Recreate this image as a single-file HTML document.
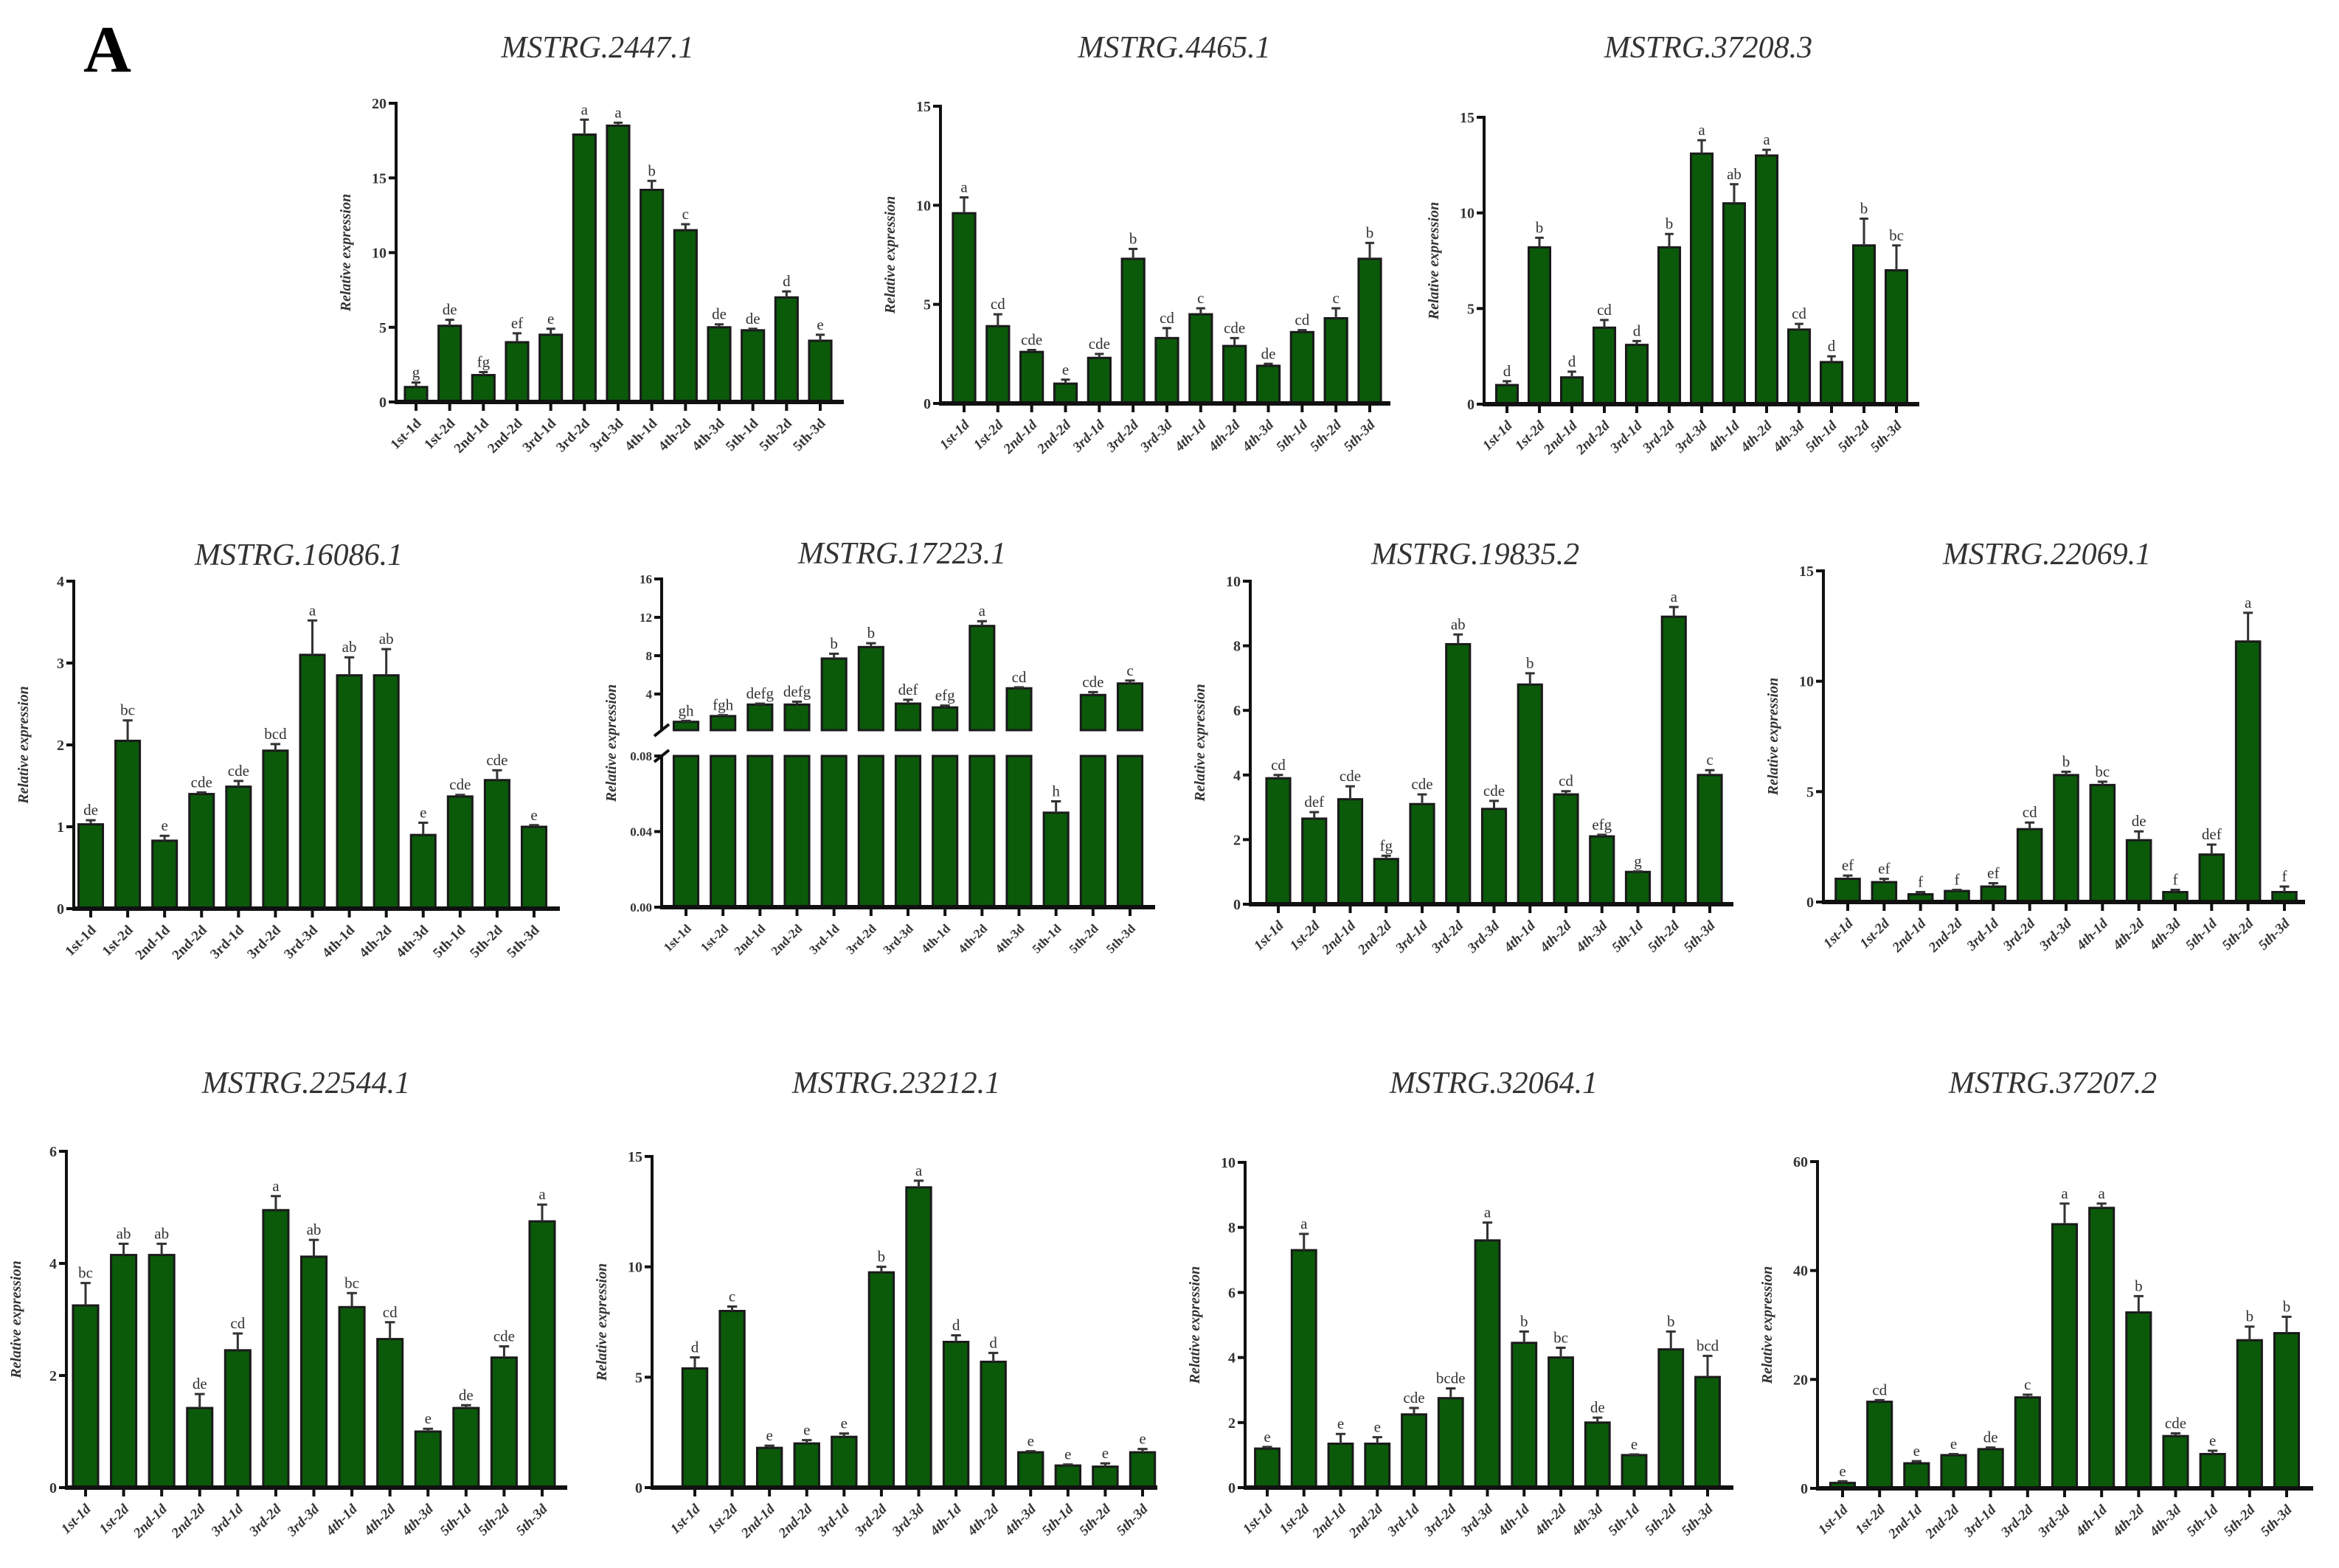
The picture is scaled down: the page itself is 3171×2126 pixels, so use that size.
<!DOCTYPE html>
<html><head><meta charset="utf-8">
<style>
html,body{margin:0;padding:0;background:#fff;}
svg{display:block;}
text{font-family:"Liberation Serif",serif;}
</style></head>
<body>
<svg id="fig" width="3171" height="2126" viewBox="0 0 3171 2126" xmlns="http://www.w3.org/2000/svg">
<text x="113" y="97" font-size="90" font-weight="bold" fill="#000">A</text>
</svg>
<script>
const categories = ["1st-1d","1st-2d","2nd-1d","2nd-2d","3rd-1d","3rd-2d","3rd-3d","4th-1d","4th-2d","4th-3d","5th-1d","5th-2d","5th-3d"];

const p1Values = [1.0,5.1,1.8,4.0,4.5,17.9,18.5,14.2,11.5,5.0,4.8,7.0,4.1];
const p1Errors = [0.3,0.4,0.2,0.6,0.4,1.0,0.2,0.6,0.4,0.2,0.1,0.4,0.4];
const p1Letters = ["g","de","fg","ef","e","a","a","b","c","de","de","d","e"];
const p1Ticks = [0,5,10,15,20];

const p2Values = [9.6,3.9,2.6,1.0,2.3,7.3,3.3,4.5,2.9,1.9,3.6,4.3,7.3];
const p2Errors = [0.8,0.6,0.1,0.2,0.2,0.5,0.5,0.3,0.4,0.1,0.1,0.5,0.8];
const p2Letters = ["a","cd","cde","e","cde","b","cd","c","cde","de","cd","c","b"];
const p2Ticks = [0,5,10,15];

const p3Values = [1.0,8.2,1.4,4.0,3.1,8.2,13.1,10.5,13.0,3.9,2.2,8.3,7.0];
const p3Errors = [0.2,0.5,0.3,0.4,0.2,0.7,0.7,1.0,0.3,0.3,0.3,1.4,1.3];
const p3Letters = ["d","b","d","cd","d","b","a","ab","a","cd","d","b","bc"];
const p3Ticks = [0,5,10,15];

const p4Values = [1.03,2.05,0.83,1.4,1.49,1.93,3.1,2.85,2.85,0.9,1.37,1.57,1.0];
const p4Errors = [0.05,0.25,0.06,0.02,0.07,0.08,0.42,0.22,0.32,0.15,0.02,0.12,0.02];
const p4Letters = ["de","bc","e","cde","cde","bcd","a","ab","ab","e","cde","cde","e"];
const p4Ticks = [0,1,2,3,4];

const p5Values = [1.1,1.7,2.9,2.9,7.7,8.9,3.0,2.6,11.1,4.6,0.05,3.9,5.1];
const p5Errors = [0.1,0.1,0.1,0.3,0.5,0.4,0.4,0.2,0.5,0.1,0.006,0.3,0.3];
const p5Letters = ["gh","fgh","defg","defg","b","b","def","efg","a","cd","h","cde","c"];
const p5UpperTicks = [4,8,12,16];
const p5LowerTicks = [0,0.04,0.08];

const p6Values = [3.9,2.65,3.25,1.4,3.1,8.05,2.95,6.8,3.4,2.1,1.0,8.9,4.0];
const p6Errors = [0.1,0.2,0.4,0.1,0.3,0.3,0.25,0.35,0.1,0.05,0.02,0.3,0.15];
const p6Letters = ["cd","def","cde","fg","cde","ab","cde","b","cd","efg","g","a","c"];
const p6Ticks = [0,2,4,6,8,10];

const p7Values = [1.05,0.9,0.35,0.5,0.7,3.3,5.75,5.3,2.8,0.45,2.15,11.8,0.45];
const p7Errors = [0.15,0.15,0.1,0.05,0.15,0.3,0.15,0.15,0.4,0.1,0.45,1.3,0.25];
const p7Letters = ["ef","ef","f","f","ef","cd","b","bc","de","f","def","a","f"];
const p7Ticks = [0,5,10,15];

const p8Values = [3.25,4.15,4.15,1.42,2.45,4.95,4.12,3.22,2.65,1.0,1.42,2.32,4.75];
const p8Errors = [0.4,0.2,0.2,0.25,0.3,0.25,0.3,0.25,0.3,0.05,0.05,0.2,0.3];
const p8Letters = ["bc","ab","ab","de","cd","a","ab","bc","cd","e","de","cde","a"];
const p8Ticks = [0,2,4,6];

const p9Values = [5.4,8.0,1.8,2.0,2.3,9.75,13.6,6.6,5.7,1.6,1.0,0.95,1.6];
const p9Errors = [0.5,0.2,0.1,0.15,0.15,0.25,0.3,0.3,0.4,0.05,0.05,0.15,0.15];
const p9Letters = ["d","c","e","e","e","b","a","d","d","e","e","e","e"];
const p9Ticks = [0,5,10,15];

const p10Values = [1.2,7.3,1.35,1.35,2.25,2.75,7.6,4.45,4.0,2.0,1.0,4.25,3.4];
const p10Errors = [0.05,0.5,0.3,0.2,0.2,0.3,0.55,0.35,0.3,0.15,0.02,0.55,0.65];
const p10Letters = ["e","a","e","e","cde","bcde","a","b","bc","de","e","b","bcd"];
const p10Ticks = [0,2,4,6,8,10];

const p11Values = [1.0,15.9,4.6,6.1,7.2,16.7,48.5,51.5,32.3,9.6,6.3,27.2,28.5];
const p11Errors = [0.3,0.3,0.4,0.2,0.3,0.5,3.8,0.8,3.0,0.5,0.6,2.5,3.0];
const p11Letters = ["e","cd","e","e","de","c","a","a","b","cde","e","b","b"];
const p11Ticks = [0,20,40,60];

const NS = "http://www.w3.org/2000/svg";
const svg = document.getElementById("fig");
const GREEN = "#0a5a0a";

function mk(tag, attrs, parent) {
  const el = document.createElementNS(NS, tag);
  for (const k in attrs) el.setAttribute(k, attrs[k]);
  (parent || svg).appendChild(el);
  return el;
}

function drawPanel(cfg, values, errors, letters, ticks) {
  const g = mk("g", {});
  
  
  const ymax = ticks[ticks.length - 1];
  const yScale = v => cfg.y0 - (v / ymax) * (cfg.y0 - cfg.yTop);
  const step = (cfg.xLast - cfg.xFirst) / (categories.length - 1);
  const xScale = i => cfg.xFirst + i * step;
  const bw = step * 0.66;

  const t = mk("text", {x: cfg.tx, y: cfg.ty, "font-size": 42, "font-style": "italic", "text-anchor": "middle", fill: "#333"}, g);
  t.textContent = cfg.title;
  
  

  const yl = mk("text", {x: 0, y: 0, "font-size": 20, "font-style": "italic", "font-weight": "bold", "text-anchor": "middle", fill: "#333",
    transform: `translate(${cfg.ax - 62},${(cfg.y0 + cfg.yTop) / 2}) rotate(-90)`}, g);
  yl.textContent = "Relative expression";
  
  

  values.forEach((v, i) => {
    const x = xScale(i);
    const yt = yScale(v);
    const r = mk("rect", {x: x - bw / 2, y: yt, width: bw, height: cfg.y0 - yt, fill: GREEN, stroke: "#1a1a1a", "stroke-width": 3}, g);
    
    
    const ye = yScale(v + errors[i]);
    const e = mk("path", {d: `M${x},${yt} V${ye} M${x - bw * 0.2},${ye} H${x + bw * 0.2}`, stroke: "#333", "stroke-width": 3, fill: "none"}, g);
    
    
    const l = mk("text", {x: x, y: ye - 7, "font-size": 21, "text-anchor": "middle", fill: "#333"}, g);
    l.textContent = letters[i];
    
    
  });

  drawAxes(g, cfg, xScale);
  ticks.forEach(tv => {
    const y = yScale(tv);
    const tk = mk("line", {x1: cfg.ax - 10, x2: cfg.ax, y1: y, y2: y, stroke: "#111", "stroke-width": 4}, g);
    
    
    const tl = mk("text", {x: cfg.ax - 13, y: y + 7, "font-size": 20, "font-weight": "bold", "text-anchor": "end", fill: "#333"}, g);
    tl.textContent = tv;
    
    
  });
}

function drawAxes(g, cfg, xScale) {
  const ya = mk("line", {x1: cfg.ax, x2: cfg.ax, y1: cfg.yTop - 2, y2: cfg.y0, stroke: "#111", "stroke-width": 4}, g);
  
  
  const xa = mk("line", {x1: cfg.ax - 2, x2: cfg.xEnd, y1: cfg.y0, y2: cfg.y0, stroke: "#111", "stroke-width": 6}, g);
  
  
  categories.forEach((c, i) => {
    const x = xScale(i);
    const tk = mk("line", {x1: x, x2: x, y1: cfg.y0, y2: cfg.y0 + 12, stroke: "#111", "stroke-width": 4}, g);
    
    
    const tl = mk("text", {x: 0, y: 0, "font-size": 19, "font-weight": "bold", "font-style": cfg.italicX ? "italic" : "normal", "text-anchor": "end", fill: "#333",
      transform: `translate(${x + 8},${cfg.y0 + 30}) rotate(-45)`}, g);
    tl.textContent = c;
    
    
  });
}

function drawBrokenPanel(cfg) {
  const g = mk("g", {});
  
  
  const upperMax = p5UpperTicks[p5UpperTicks.length - 1];
  const lowerMax = p5LowerTicks[p5LowerTicks.length - 1];
  const yU = v => cfg.yTop + (upperMax - v) * cfg.upperPerUnit;
  const yL = v => cfg.y0 - (v / lowerMax) * (cfg.y0 - cfg.lowerTop);
  const step = (cfg.xLast - cfg.xFirst) / (categories.length - 1);
  const xScale = i => cfg.xFirst + i * step;
  const bw = step * 0.66;

  const t = mk("text", {x: cfg.tx, y: cfg.ty, "font-size": 42, "font-style": "italic", "text-anchor": "middle", fill: "#333"}, g);
  t.textContent = cfg.title;
  
  
  const yl = mk("text", {x: 0, y: 0, "font-size": 20, "font-style": "italic", "font-weight": "bold", "text-anchor": "middle", fill: "#333",
    transform: `translate(${cfg.ax - 62},${(cfg.y0 + cfg.yTop) / 2}) rotate(-90)`}, g);
  yl.textContent = "Relative expression";
  
  

  p5Values.forEach((v, i) => {
    const x = xScale(i);
    let ytop, ye;
    if (v > lowerMax) {
      const lo = mk("rect", {x: x - bw / 2, y: cfg.lowerTop, width: bw, height: cfg.y0 - cfg.lowerTop, fill: GREEN, stroke: "#1a1a1a", "stroke-width": 3}, g);
      
      
      ytop = yU(v);
      const up = mk("rect", {x: x - bw / 2, y: ytop, width: bw, height: cfg.upperBase - ytop, fill: GREEN, stroke: "#1a1a1a", "stroke-width": 3}, g);
      
      
      ye = yU(v + p5Errors[i]);
    } else {
      ytop = yL(v);
      const lo = mk("rect", {x: x - bw / 2, y: ytop, width: bw, height: cfg.y0 - ytop, fill: GREEN, stroke: "#1a1a1a", "stroke-width": 3}, g);
      
      
      ye = yL(v + p5Errors[i]);
    }
    const e = mk("path", {d: `M${x},${ytop} V${ye} M${x - bw * 0.2},${ye} H${x + bw * 0.2}`, stroke: "#333", "stroke-width": 3, fill: "none"}, g);
    
    
    const l = mk("text", {x: x, y: ye - 7, "font-size": 21, "text-anchor": "middle", fill: "#333"}, g);
    l.textContent = p5Letters[i];
    
    
  });

  const yaU = mk("line", {x1: cfg.ax, x2: cfg.ax, y1: cfg.yTop - 2, y2: cfg.upperBase, stroke: "#111", "stroke-width": 4}, g);
  
  
  const yaL = mk("line", {x1: cfg.ax, x2: cfg.ax, y1: cfg.lowerTop, y2: cfg.y0, stroke: "#111", "stroke-width": 4}, g);
  
  
  const br = mk("path", {d: `M${cfg.ax - 10},${cfg.upperBase + 8} L${cfg.ax + 10},${cfg.upperBase - 8} M${cfg.ax - 10},${cfg.lowerTop + 8} L${cfg.ax + 10},${cfg.lowerTop - 8}`, stroke: "#111", "stroke-width": 4}, g);
  
  
  const xa = mk("line", {x1: cfg.ax - 2, x2: cfg.xEnd, y1: cfg.y0, y2: cfg.y0, stroke: "#111", "stroke-width": 6}, g);
  
  
  categories.forEach((c, i) => {
    const x = xScale(i);
    const tk = mk("line", {x1: x, x2: x, y1: cfg.y0, y2: cfg.y0 + 12, stroke: "#111", "stroke-width": 4}, g);
    
    
    const tl = mk("text", {x: 0, y: 0, "font-size": 17, "font-weight": "bold", "text-anchor": "end", fill: "#333",
      transform: `translate(${x + 8},${cfg.y0 + 30}) rotate(-45)`}, g);
    tl.textContent = c;
    
    
  });
  p5UpperTicks.forEach(tv => {
    const y = yU(tv);
    const tk = mk("line", {x1: cfg.ax - 10, x2: cfg.ax, y1: y, y2: y, stroke: "#111", "stroke-width": 4}, g);
    
    
    const tl = mk("text", {x: cfg.ax - 13, y: y + 6, "font-size": 17, "font-weight": "bold", "text-anchor": "end", fill: "#333"}, g);
    tl.textContent = tv;
    
    
  });
  p5LowerTicks.forEach(tv => {
    const y = yL(tv);
    const tk = mk("line", {x1: cfg.ax - 10, x2: cfg.ax, y1: y, y2: y, stroke: "#111", "stroke-width": 4}, g);
    
    
    const tl = mk("text", {x: cfg.ax - 13, y: y + 6, "font-size": 17, "font-weight": "bold", "text-anchor": "end", fill: "#333"}, g);
    tl.textContent = tv.toFixed(2);
    
    
  });
}

drawPanel({id:"mstrg-2447-1", title:"MSTRG.2447.1", tx:810, ty:78, ax:537, xEnd:1144, yTop:140, y0:545, xFirst:564, xLast:1112, italicX:false}, p1Values, p1Errors, p1Letters, p1Ticks);
drawPanel({id:"mstrg-4465-1", title:"MSTRG.4465.1", tx:1592, ty:78, ax:1275, xEnd:1885, yTop:144, y0:547, xFirst:1307, xLast:1857, italicX:true}, p2Values, p2Errors, p2Letters, p2Ticks);
drawPanel({id:"mstrg-37208-3", title:"MSTRG.37208.3", tx:2316, ty:78, ax:2012, xEnd:2602, yTop:159, y0:548, xFirst:2043, xLast:2571, italicX:true}, p3Values, p3Errors, p3Letters, p3Ticks);
drawPanel({id:"mstrg-16086-1", title:"MSTRG.16086.1", tx:405, ty:766, ax:100, xEnd:759, yTop:788, y0:1232, xFirst:123, xLast:724, italicX:false}, p4Values, p4Errors, p4Letters, p4Ticks);
drawBrokenPanel({id:"mstrg-17223-1", title:"MSTRG.17223.1", tx:1223, ty:764, ax:897, xEnd:1566, yTop:785, upperPerUnit:13, upperBase:990, lowerTop:1025, y0:1230, xFirst:930, xLast:1532});
drawPanel({id:"mstrg-19835-2", title:"MSTRG.19835.2", tx:2000, ty:765, ax:1695, xEnd:2350, yTop:788, y0:1226, xFirst:1733, xLast:2318, italicX:true}, p6Values, p6Errors, p6Letters, p6Ticks);
drawPanel({id:"mstrg-22069-1", title:"MSTRG.22069.1", tx:2775, ty:765, ax:2472, xEnd:3125, yTop:774, y0:1223, xFirst:2505, xLast:3097, italicX:true}, p7Values, p7Errors, p7Letters, p7Ticks);
drawPanel({id:"mstrg-22544-1", title:"MSTRG.22544.1", tx:415, ty:1482, ax:90, xEnd:769, yTop:1561, y0:2017, xFirst:116, xLast:735, italicX:true}, p8Values, p8Errors, p8Letters, p8Ticks);
drawPanel({id:"mstrg-23212-1", title:"MSTRG.23212.1", tx:1215, ty:1482, ax:884, xEnd:1569, yTop:1568, y0:2017, xFirst:942, xLast:1549, italicX:true}, p9Values, p9Errors, p9Letters, p9Ticks);
drawPanel({id:"mstrg-32064-1", title:"MSTRG.32064.1", tx:2025, ty:1482, ax:1688, xEnd:2350, yTop:1576, y0:2017, xFirst:1718, xLast:2315, italicX:true}, p10Values, p10Errors, p10Letters, p10Ticks);
drawPanel({id:"mstrg-37207-2", title:"MSTRG.37207.2", tx:2783, ty:1482, ax:2464, xEnd:3136, yTop:1575, y0:2018, xFirst:2498, xLast:3100, italicX:true}, p11Values, p11Errors, p11Letters, p11Ticks);
</script>
</body></html>
